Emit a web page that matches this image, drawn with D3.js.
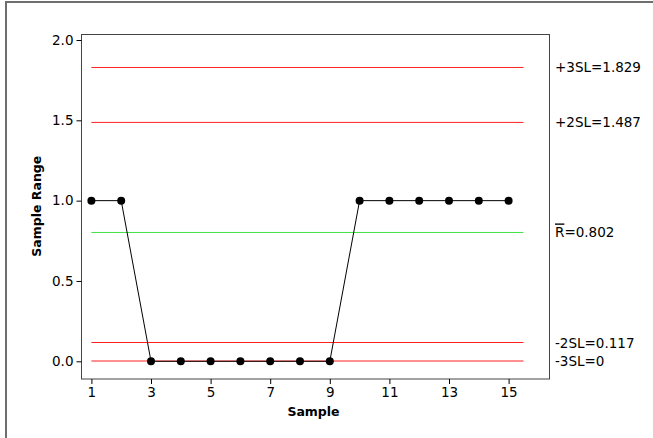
<!DOCTYPE html>
<html>
<head>
<meta charset="utf-8">
<script src="https://cdn.jsdelivr.net/npm/d3@7"></script>
<style>
  body { margin: 0; background: #fff; }
  svg { display: block; font-family: "DejaVu Sans", Verdana, sans-serif; }
</style>
</head>
<body>
<div id="chart"></div>
<script>
// sample numbers and their ranges
const samples = [1, 2, 3, 4, 5, 6, 7, 8, 9, 10, 11, 12, 13, 14, 15];
const ranges = [1, 1, 0, 0, 0, 0, 0, 0, 0, 1, 1, 1, 1, 1, 1];

// control limit lines
const limitNames = ["+3SL=1.829", "+2SL=1.487", "R=0.802", "-2SL=0.117", "-3SL=0"];
const limitValues = [1.829, 1.487, 0.802, 0.117, 0];
const limitColors = ["#ff2020", "#ff2020", "#40e040", "#ff2020", "#ff2020"];

const yTicks = [0, 0.5, 1, 1.5, 2];
const xTicks = [1, 3, 5, 7, 9, 11, 13, 15];

const W = 653, H = 438;
const box = { left: 81, top: 34, right: 549, bottom: 378.5 };
const fontSize = 13.5;

const svg = d3.select('#chart').append('svg')
    .attr('width', W)
    .attr('height', H);

// outer frame (only left + top visible in the picture)
svg.append('path')
    .attr('d', `M6,${H + 5}V2H${W + 5}`)
    .attr('fill', 'none')
    .attr('stroke', '#6e6e6e')
    .attr('stroke-width', 2);

const x = d3.scaleLinear().domain([1, 15]).range([91.4, 508.6]);
const y = d3.scaleLinear().domain([0, 2]).range([361.3, 40]);

// plot box
svg.append('rect')
    .attr('x', box.left + 0.5)
    .attr('y', box.top + 0.5)
    .attr('width', box.right - box.left)
    .attr('height', box.bottom - box.top)
    .attr('fill', 'none')
    .attr('stroke', '#444')
    .attr('stroke-width', 1);

// axes
const yAxis = svg.append('g')
    .attr('transform', `translate(${box.left + 0.5},0)`)
    .call(d3.axisLeft(y).tickValues(yTicks).tickFormat(d3.format('.1f')).tickSize(5).tickPadding(3));
const xAxis = svg.append('g')
    .attr('transform', `translate(0,${box.bottom + 0.5})`)
    .call(d3.axisBottom(x).tickValues(xTicks).tickFormat(d3.format('d')).tickSize(5).tickPadding(3));

[yAxis, xAxis].forEach(g => {
    g.select('.domain').remove();
    g.selectAll('.tick line').attr('stroke', '#000');
    g.selectAll('text').attr('font-size', fontSize).attr('fill', '#000')
        .attr('font-family', '"DejaVu Sans", Verdana, sans-serif');
});

// limit lines: keep lines that land on a pixel centre crisp,
// put the others on a pixel edge so they spread over two rows like the original
const lineY = v => {
    const p = y(v);
    const frac = p - Math.floor(p);
    return Math.abs(frac - 0.5) < 0.15 ? p : Math.round(p);
};
svg.append('g').attr('class', 'limits').selectAll('line')
    .data(limitValues)
    .join('line')
    .attr('x1', x(1))
    .attr('x2', x(15.5))
    .attr('y1', d => lineY(d))
    .attr('y2', d => lineY(d))
    .style('stroke', (d, i) => limitColors[i])
    .style('stroke-width', 1);

// limit labels
const labels = svg.append('g').selectAll('text')
    .data(limitValues)
    .join('text')
    .attr('x', box.right + 6)
    .attr('y', d => y(d) + 5)
    .attr('font-size', fontSize)
    .attr('fill', '#000');
labels.each(function (d, i) {
    const t = d3.select(this);
    if (limitNames[i].startsWith('R')) {
        t.append('tspan').attr('text-decoration', 'overline').text('R');
        t.append('tspan').text(limitNames[i].slice(1));
    } else {
        t.text(limitNames[i]);
    }
});

// data line
const line = d3.line().x((d, i) => x(samples[i])).y(d => y(d));
svg.append('path')
    .datum(ranges)
    .attr('d', line)
    .attr('fill', 'none')
    .attr('stroke', '#000')
    .attr('stroke-width', 1);

svg.append('g').selectAll('circle')
    .data(ranges)
    .join('circle')
    .attr('cx', (d, i) => x(samples[i]))
    .attr('cy', d => y(d))
    .attr('r', 4)
    .attr('fill', '#000');

// axis titles
svg.append('text')
    .attr('x', 313.5)
    .attr('y', 416)
    .attr('text-anchor', 'middle')
    .attr('font-size', 12.5)
    .attr('font-weight', 'bold')
    .text('Sample');

svg.append('text')
    .attr('transform', `translate(41,${(box.top + box.bottom) / 2}) rotate(-90)`)
    .attr('text-anchor', 'middle')
    .attr('font-size', 12.5)
    .attr('font-weight', 'bold')
    .text('Sample Range');
</script>
</body>
</html>
